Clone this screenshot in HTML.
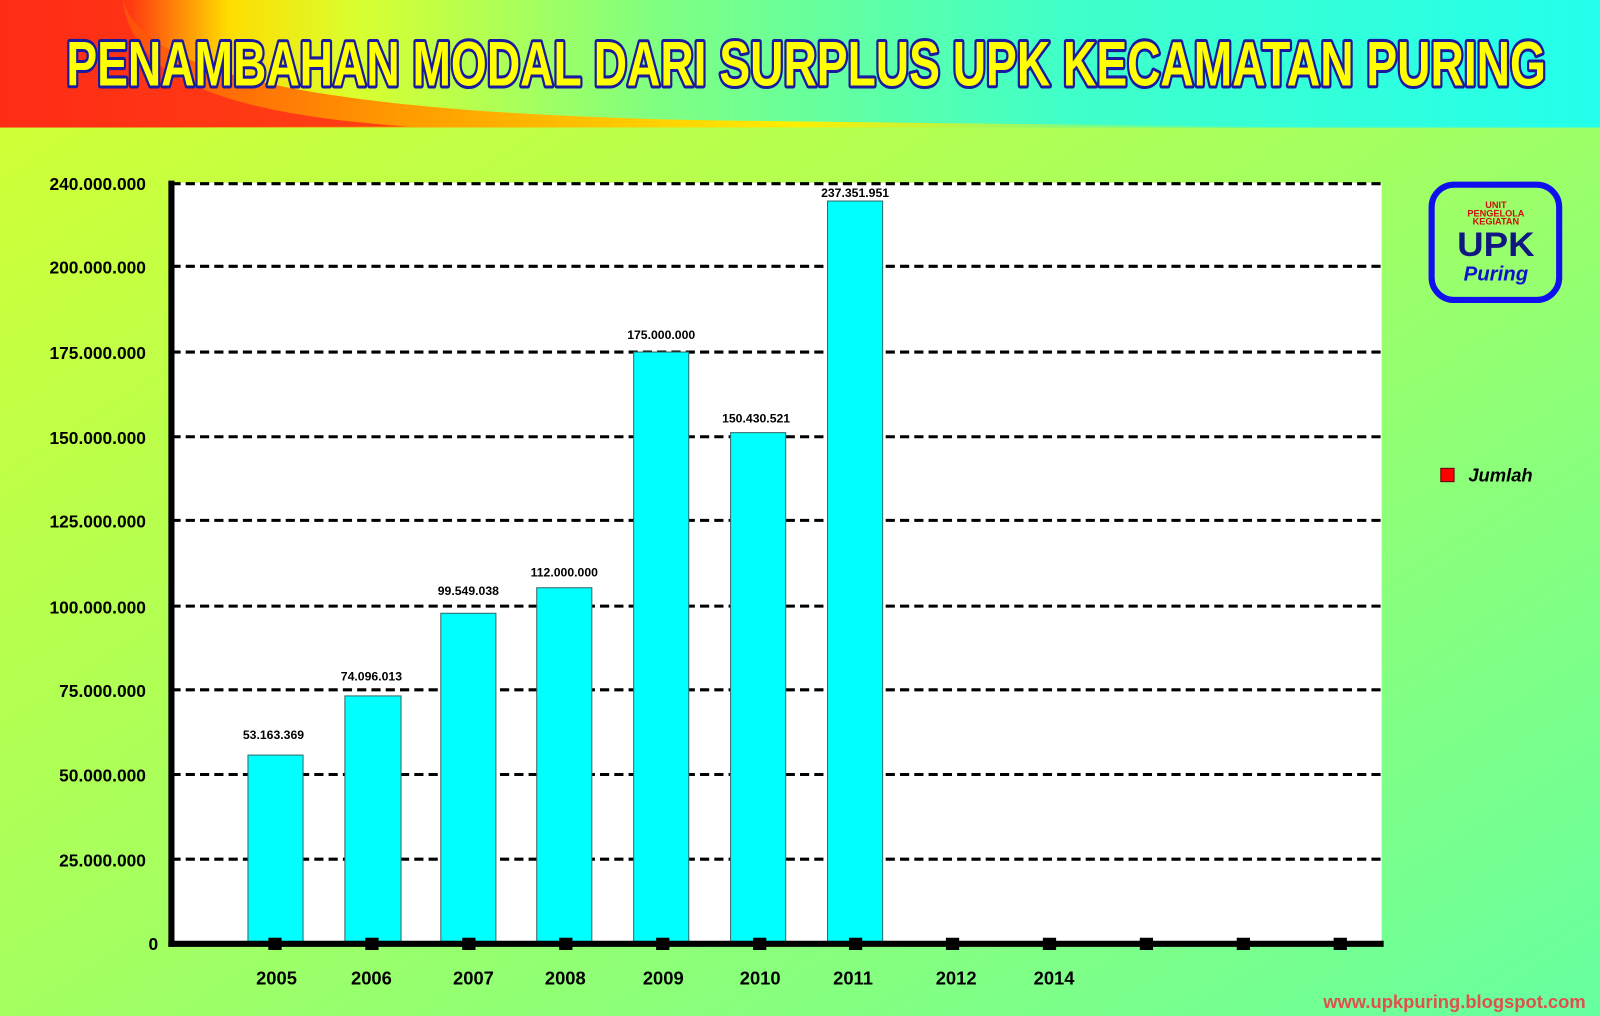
<!DOCTYPE html>
<html><head><meta charset="utf-8"><style>
html,body{margin:0;padding:0;width:1600px;height:1016px;overflow:hidden}
svg{display:block}
text{font-family:"Liberation Sans",sans-serif;font-weight:bold}
</style></head><body>
<svg width="1600" height="1016" viewBox="0 0 1600 1016" xmlns="http://www.w3.org/2000/svg">
<defs>
<linearGradient id="hd" x1="0" y1="0" x2="1" y2="0">
<stop offset="0" stop-color="#ff1a1a"/>
<stop offset="0.08" stop-color="#ff3a10"/>
<stop offset="0.14" stop-color="#ffdd00"/>
<stop offset="0.22" stop-color="#d8ff30"/>
<stop offset="0.4" stop-color="#80ff80"/>
<stop offset="0.65" stop-color="#40ffc8"/>
<stop offset="1" stop-color="#22ffee"/>
</linearGradient>
<linearGradient id="sw" x1="0" y1="0" x2="1" y2="0">
<stop offset="0" stop-color="#ff3010"/>
<stop offset="0.3" stop-color="#ff9a00"/>
<stop offset="0.6" stop-color="#ffee00"/>
<stop offset="1" stop-color="#aaff40" stop-opacity="0"/>
</linearGradient>
<linearGradient id="bd" x1="0" y1="0" x2="1" y2="1">
<stop offset="0" stop-color="#d6ff30"/>
<stop offset="0.5" stop-color="#a4ff60"/>
<stop offset="1" stop-color="#66ffa0"/>
</linearGradient>
</defs>
<rect x="0" y="0" width="1600" height="1016" fill="url(#bd)"/>
<g transform="scale(1.0204)">
<rect x="0" y="0" width="1600" height="125" fill="url(#hd)"/>
<path d="M0 0 L120 0 C140 60 250 110 700 118 L1300 125 L0 125 Z" fill="url(#sw)"/>
<path d="M0 0 L120 0 C130 70 200 110 400 124 L0 125 Z" fill="#ff2a18" opacity="0.8"/>
<text x="790" y="84" text-anchor="middle" font-size="62" textLength="1450" lengthAdjust="spacingAndGlyphs" fill="#ffff00" stroke="#1a1aa0" stroke-width="6" paint-order="stroke" stroke-linejoin="round">PENAMBAHAN MODAL DARI SURPLUS UPK KECAMATAN PURING</text>

<rect x="168" y="179" width="1186" height="745" fill="#fff"/>
<g stroke="#000" stroke-width="3" stroke-dasharray="9,5">
<line x1="168" y1="180" x2="1354" y2="180"/>
<line x1="168" y1="261" x2="1354" y2="261"/>
<line x1="168" y1="345" x2="1354" y2="345"/>
<line x1="168" y1="428" x2="1354" y2="428"/>
<line x1="168" y1="510" x2="1354" y2="510"/>
<line x1="168" y1="594" x2="1354" y2="594"/>
<line x1="168" y1="676" x2="1354" y2="676"/>
<line x1="168" y1="759" x2="1354" y2="759"/>
<line x1="168" y1="842" x2="1354" y2="842"/>
</g>
<g fill="#00ffff" stroke="#336666" stroke-width="1">
<rect x="243" y="740" width="54" height="184"/>
<rect x="338" y="682" width="55" height="242"/>
<rect x="432" y="601" width="54" height="323"/>
<rect x="526" y="576" width="54" height="348"/>
<rect x="621" y="345" width="54" height="579"/>
<rect x="716" y="424" width="54" height="500"/>
<rect x="811" y="197" width="54" height="727"/>
</g>
<line x1="168" y1="177" x2="168" y2="928" stroke="#000" stroke-width="6"/>
<line x1="165" y1="925" x2="1356" y2="925" stroke="#000" stroke-width="6"/>
<g fill="#000">
<rect x="263" y="919" width="13" height="12"/><rect x="358" y="919" width="13" height="12"/>
<rect x="453" y="919" width="13" height="12"/><rect x="548" y="919" width="13" height="12"/>
<rect x="643" y="919" width="13" height="12"/><rect x="738" y="919" width="13" height="12"/>
<rect x="832" y="919" width="13" height="12"/><rect x="927" y="919" width="13" height="12"/>
<rect x="1022" y="919" width="13" height="12"/><rect x="1117" y="919" width="13" height="12"/>
<rect x="1212" y="919" width="13" height="12"/><rect x="1307" y="919" width="13" height="12"/>
</g>
<g font-size="17" text-anchor="end" fill="#000">
<text x="143" y="186">240.000.000</text>
<text x="143" y="268">200.000.000</text>
<text x="143" y="352">175.000.000</text>
<text x="143" y="435">150.000.000</text>
<text x="143" y="517">125.000.000</text>
<text x="143" y="601">100.000.000</text>
<text x="143" y="683">75.000.000</text>
<text x="143" y="766">50.000.000</text>
<text x="143" y="849">25.000.000</text>
<text x="155" y="931">0</text>
</g>
<g font-size="12" text-anchor="middle" fill="#000">
<text x="268" y="724">53.163.369</text>
<text x="364" y="667">74.096.013</text>
<text x="459" y="583">99.549.038</text>
<text x="553" y="565">112.000.000</text>
<text x="648" y="332">175.000.000</text>
<text x="741" y="414">150.430.521</text>
<text x="838" y="193">237.351.951</text>
</g>
<g font-size="18" text-anchor="middle" fill="#000">
<text x="271" y="965">2005</text><text x="364" y="965">2006</text>
<text x="464" y="965">2007</text><text x="554" y="965">2008</text>
<text x="650" y="965">2009</text><text x="745" y="965">2010</text>
<text x="836" y="965">2011</text><text x="937" y="965">2012</text>
<text x="1033" y="965">2014</text>
</g>
<rect x="1412" y="459" width="13" height="13" fill="#ff0000" stroke="#660000" stroke-width="1"/>
<text x="1439" y="472" font-size="18" font-style="italic" fill="#000">Jumlah</text>
<rect x="1403" y="181" width="125" height="113" rx="22" fill="none" stroke="#1010ee" stroke-width="6"/>
<text x="1466" y="204" font-size="9" text-anchor="middle" fill="#cc1010">UNIT</text>
<text x="1466" y="212" font-size="9" text-anchor="middle" fill="#cc1010">PENGELOLA</text>
<text x="1466" y="220" font-size="9" text-anchor="middle" fill="#cc1010">KEGIATAN</text>
<text x="1466" y="251" font-size="34" text-anchor="middle" fill="#101880" textLength="76" lengthAdjust="spacingAndGlyphs">UPK</text>
<text x="1466" y="275" font-size="20" font-style="italic" text-anchor="middle" fill="#1010cc" font-weight="normal" font-family="Liberation Serif">Puring</text>
<text x="1554" y="988" font-size="18" text-anchor="end" fill="#e05050" font-weight="normal">www.upkpuring.blogspot.com</text>
</g>
</svg>
</body></html>
